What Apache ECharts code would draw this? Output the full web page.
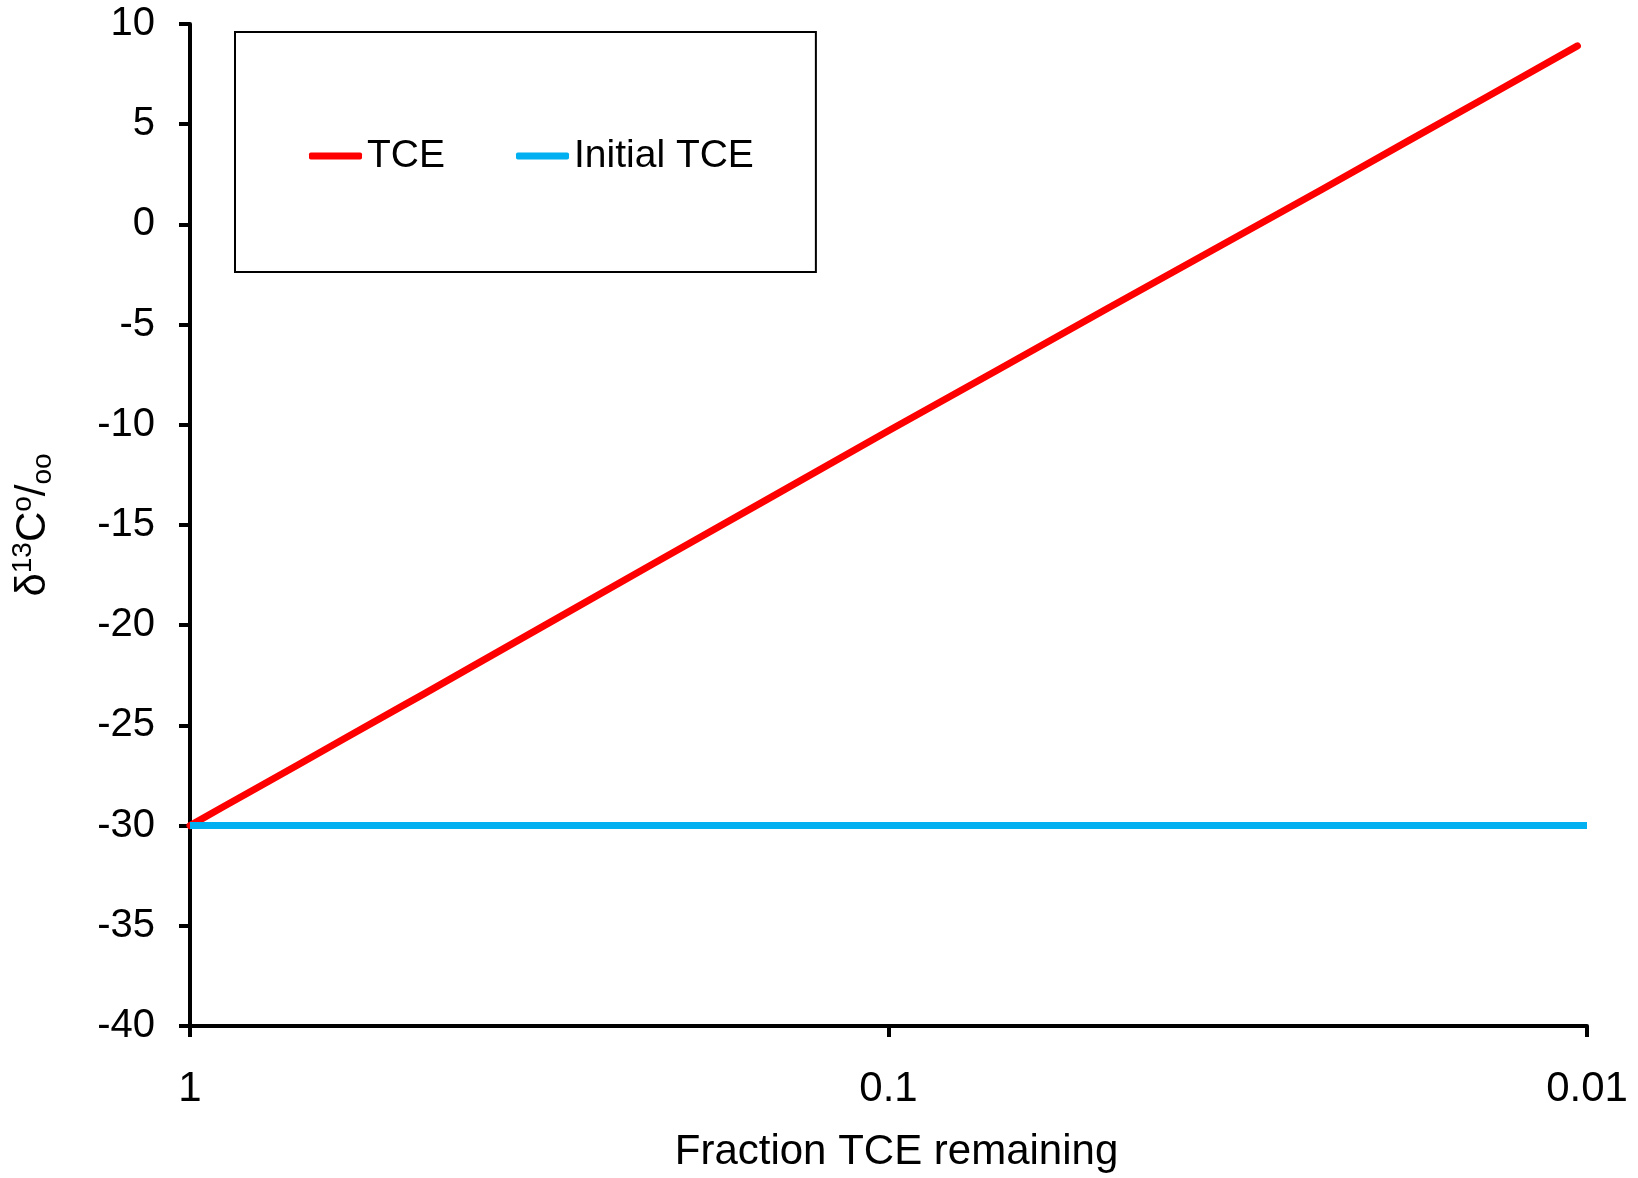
<!DOCTYPE html>
<html>
<head>
<meta charset="utf-8">
<title>Fraction TCE remaining</title>
<script src="https://cdn.jsdelivr.net/npm/echarts@6/dist/echarts.min.js"></script>
<style>
  html, body { margin: 0; padding: 0; background: #ffffff; }
  #chart { width: 1638px; height: 1178px; }
</style>
</head>
<body>
<div id="chart"></div>
<script>
// Fraction of TCE remaining (x) and the carbon isotope ratio of the residual TCE (y)
const tceFraction = [1, 0.9, 0.8, 0.7, 0.6, 0.5, 0.4637, 0.4, 0.3, 0.2175, 0.15, 0.1, 0.07, 0.0486, 0.035, 0.024, 0.018, 0.014, 0.01032];
const tceDelta    = [-30, -29.1, -28.1, -26.96, -25.64, -24.09, -23.45, -22.18, -19.71, -16.95, -13.77, -10.3, -7.29, -4.2, -1.44, 1.73, 4.18, 6.31, 8.91];

// Starting isotope ratio, drawn as a flat reference across the whole range
const initialFraction = [1, 0.01];
const initialDelta    = [-30, -30];

const seriesNames = ['TCE', 'Initial TCE'];
const yTicks = { min: -40, max: 10, step: 5 };

const font = 'Liberation Sans, Arial, sans-serif';

const chart = echarts.init(document.getElementById('chart'), null, { renderer: 'canvas' });

chart.setOption({
  backgroundColor: '#ffffff',
  animation: false,
  grid: { left: 190, right: 51, top: 24, bottom: 148 },
  legend: {
    left: 235,
    top: 32,
    padding: [104, 62, 96, 74],
    borderColor: '#000000',
    borderWidth: 2,
    itemGap: 71,
    itemWidth: 53,
    itemHeight: 7,
    icon: 'roundRect',
    textStyle: { fontFamily: font, fontSize: 39, color: '#000000', lineHeight: 40 },
    data: seriesNames
  },
  xAxis: {
    type: 'log',
    logBase: 10,
    min: 0.01,
    max: 1,
    inverse: true,
    name: 'Fraction TCE remaining',
    nameLocation: 'middle',
    nameGap: 105,
    nameTextStyle: { fontFamily: font, fontSize: 42, color: '#000000', padding: [0, 0, 0, 16] },
    axisLine: { show: true, onZero: false, lineStyle: { color: '#000000', width: 4 } },
    axisTick: { show: true, inside: false, length: 11, lineStyle: { color: '#000000', width: 4 } },
    minorTick: { show: false },
    splitLine: { show: false },
    axisLabel: {
      fontFamily: font, fontSize: 42, color: '#000000', margin: 42,
      formatter: v => String(Number(v.toPrecision(6)))
    }
  },
  yAxis: {
    type: 'value',
    min: yTicks.min,
    max: yTicks.max,
    interval: yTicks.step,
    name: '{d|δ}{sup|13}{d|C}{sup|o}{d|/}{sub|oo}',
    nameLocation: 'middle',
    nameRotate: 90,
    nameGap: 133,
    nameTextStyle: {
      fontFamily: font,
      color: '#000000',
      rich: {
        d:   { fontFamily: font, fontSize: 42, color: '#000000', lineHeight: 48, verticalAlign: 'middle' },
        sup: { fontFamily: font, fontSize: 28, color: '#000000', lineHeight: 48, verticalAlign: 'top' },
        sub: { fontFamily: font, fontSize: 28, color: '#000000', lineHeight: 48, verticalAlign: 'bottom' }
      }
    },
    axisLine: { show: true, onZero: false, lineStyle: { color: '#000000', width: 4 } },
    axisTick: { show: true, inside: false, length: 11, lineStyle: { color: '#000000', width: 4 } },
    splitLine: { show: false },
    axisLabel: { fontFamily: font, fontSize: 40, color: '#000000', margin: 35 }
  },
  series: [
    {
      name: seriesNames[0],
      type: 'line',
      symbol: 'none',
      data: tceFraction.map((f, i) => [f, tceDelta[i]]),
      itemStyle: { color: '#ff0000' },
      lineStyle: { color: '#ff0000', width: 7, cap: 'round', join: 'round' },
      z: 2
    },
    {
      name: seriesNames[1],
      type: 'line',
      symbol: 'none',
      data: initialFraction.map((f, i) => [f, initialDelta[i]]),
      itemStyle: { color: '#00b0f0' },
      lineStyle: { color: '#00b0f0', width: 7, cap: 'butt' },
      z: 3
    }
  ]
});
</script>
</body>
</html>
